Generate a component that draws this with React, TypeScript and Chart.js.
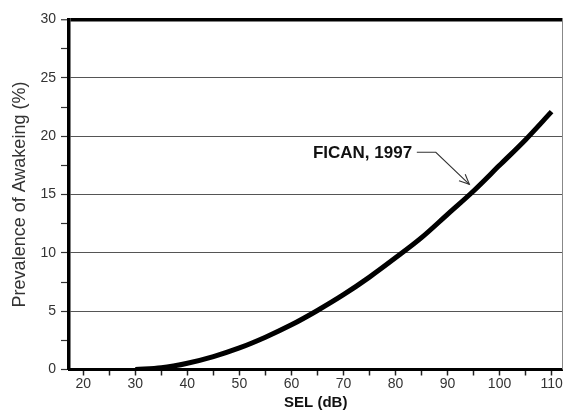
import React, { useEffect, useRef } from "react";
import { Chart, registerables } from "chart.js";

Chart.register(...registerables);

// SEL (dB) and prevalence of awakening (%)
const selValues = [30, 35, 40, 45, 50, 55, 60, 65, 70, 75, 80, 85, 90, 95, 100, 105, 110];
const prevalenceValues = [0, 0.15, 0.54, 1.11, 1.85, 2.77, 3.83, 5.06, 6.41, 7.92, 9.57, 11.3, 13.3, 15.3, 17.5, 19.7, 22.1];

const xTickValues = [20, 25, 30, 35, 40, 45, 50, 55, 60, 65, 70, 75, 80, 85, 90, 95, 100, 105, 110];
const xLabelValues = [20, 30, 40, 50, 60, 70, 80, 90, 100, 110];
const yLabelValues = [0, 5, 10, 15, 20, 25, 30];

const seriesLabel = "FICAN, 1997";
const xTitle = "SEL (dB)";
const yTitle = "Prevalence of Awakeing (%)";

const NARROW = "'Liberation Sans Narrow', 'Arial Narrow', 'Liberation Sans', Arial, sans-serif";
const SANS = "'Liberation Sans', Arial, Helvetica, sans-serif";

const annotationPlugin = {
  id: "ficanAnnotation",
  afterDatasetsDraw(chart: any) {
    const { ctx, chartArea, scales } = chart;
    const xs = scales.x;
    const ys = scales.y;
    ctx.save();
    // right frame line
    ctx.strokeStyle = "#888";
    ctx.lineWidth = 1;
    ctx.beginPath();
    ctx.moveTo(chartArea.right, chartArea.top);
    ctx.lineTo(chartArea.right, chartArea.bottom);
    ctx.stroke();

    // label
    const tx = xs.getPixelForValue(83.2);
    const ty = ys.getPixelForValue(18.55);
    ctx.fillStyle = "#111";
    ctx.font = `bold 17px ${SANS}`;
    ctx.textAlign = "right";
    ctx.textBaseline = "middle";
    ctx.fillText(seriesLabel, tx, ty);

    // leader line with arrow
    const x0 = xs.getPixelForValue(84.1);
    const y0 = ys.getPixelForValue(18.62);
    const x1 = xs.getPixelForValue(87.75);
    const x2 = xs.getPixelForValue(94.2);
    const y2 = ys.getPixelForValue(15.87);
    ctx.strokeStyle = "#333";
    ctx.lineWidth = 1.1;
    ctx.beginPath();
    ctx.moveTo(x0, y0);
    ctx.lineTo(x1, y0);
    ctx.lineTo(x2, y2);
    ctx.stroke();
    const ang = Math.atan2(y2 - y0, x2 - x1);
    const hl = 11;
    const spread = 0.42;
    ctx.beginPath();
    ctx.moveTo(x2 - hl * Math.cos(ang - spread), y2 - hl * Math.sin(ang - spread));
    ctx.lineTo(x2, y2);
    ctx.lineTo(x2 - hl * Math.cos(ang + spread), y2 - hl * Math.sin(ang + spread));
    ctx.stroke();
    ctx.restore();
  },
};

export default function App() {
  const canvasRef = useRef<HTMLCanvasElement | null>(null);

  useEffect(() => {
    document.body.style.margin = "0";
    const canvas = canvasRef.current;
    if (!canvas) return;
    const chart = new Chart(canvas, {
      type: "line",
      data: {
        datasets: [
          {
            label: seriesLabel,
            data: selValues.map((x, i) => ({ x, y: prevalenceValues[i] })),
            borderColor: "#000",
            borderWidth: 5,
            pointRadius: 0,
            cubicInterpolationMode: "monotone",
            fill: false,
          },
        ],
      },
      options: {
        animation: false,
        responsive: false,
        devicePixelRatio: 1,
        layout: { padding: { top: 19.5, right: 0.5, left: 0, bottom: 0 } },
        plugins: { legend: { display: false }, tooltip: { enabled: false } },
        scales: {
          x: {
            type: "linear",
            min: 17.25,
            max: 112.1,
            afterBuildTicks: (scale: any) => {
              scale.ticks = xTickValues.map((v) => ({ value: v }));
            },
            afterFit: (scale: any) => {
              scale.height = 42.5;
            },
            border: { display: true, color: "#000", width: 3 },
            grid: {
              drawOnChartArea: false,
              drawTicks: true,
              tickLength: 6,
              tickColor: "#222",
              tickWidth: 1.5,
            },
            ticks: {
              autoSkip: false,
              maxRotation: 0,
              padding: 0,
              color: "#333",
              font: { family: NARROW, size: 14 },
              callback: (v: any) => (xLabelValues.includes(Number(v)) ? String(v) : ""),
            },
            title: {
              display: true,
              text: xTitle,
              color: "#111",
              font: { family: SANS, size: 15, weight: "bold" },
              padding: { top: 0, bottom: 0 },
            },
          },
          y: {
            type: "linear",
            min: 0,
            max: 30,
            afterFit: (scale: any) => {
              scale.width = 69;
            },
            border: { display: true, color: "#000", width: 3.5 },
            grid: {
              drawOnChartArea: true,
              drawTicks: true,
              tickLength: 8,
              tickWidth: 1.2,
              tickColor: "#333",
              color: (c: any) => {
                const v = c.tick ? c.tick.value : 0;
                if (v === 30) return "#000";
                if (v === 0) return "rgba(0,0,0,0)";
                return yLabelValues.includes(v) ? "#555" : "rgba(0,0,0,0)";
              },
              lineWidth: (c: any) => (c.tick && c.tick.value === 30 ? 3.5 : 1),
            },
            ticks: {
              stepSize: 2.5,
              autoSkip: false,
              padding: 5,
              color: "#333",
              font: { family: NARROW, size: 14 },
              callback: (v: any) => (yLabelValues.includes(Number(v)) ? String(v) : ""),
            },
            title: {
              display: true,
              text: yTitle,
              color: "#333",
              font: { family: SANS, size: 18 },
              padding: { top: 9, bottom: 0 },
            },
          },
        },
      },
      plugins: [annotationPlugin],
    } as any);
    return () => chart.destroy();
  }, []);

  return (
    <div style={{ width: 563, height: 412, background: "#fff" }}>
      <canvas ref={canvasRef} width={563} height={412} style={{ display: "block" }} />
    </div>
  );
}
